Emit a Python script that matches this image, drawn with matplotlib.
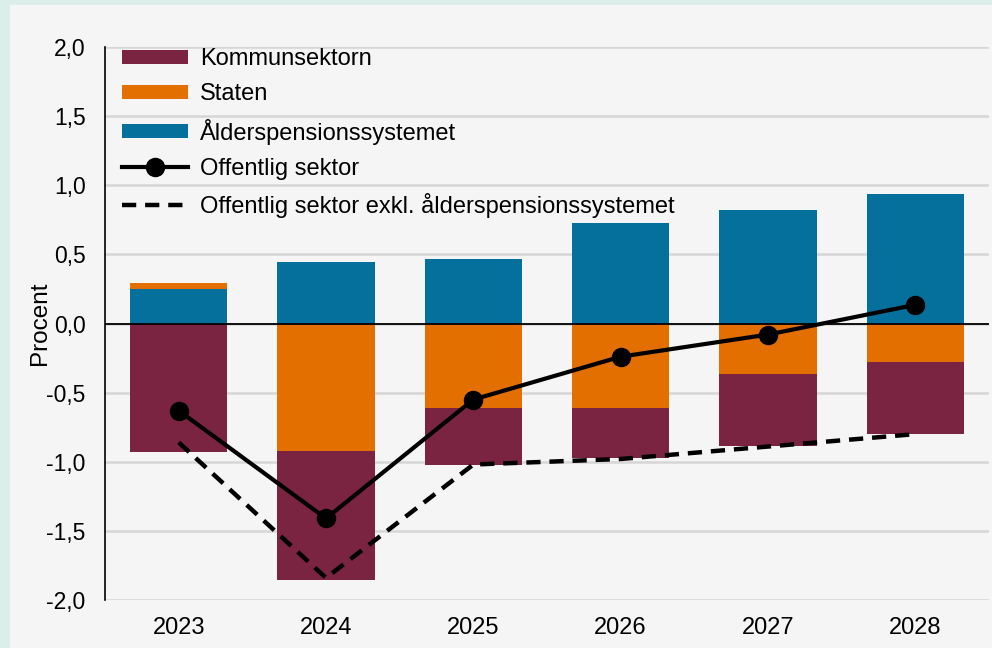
import numpy as np
import matplotlib.pyplot as plt
from matplotlib.patches import Rectangle
from matplotlib.ticker import FuncFormatter

plt.rcParams['font.family'] = ['Liberation Sans', 'DejaVu Sans']

# data (procent)
years = ['2023', '2024', '2025', '2026', '2027', '2028']
kommun = [-0.93, -0.935, -0.41, -0.36, -0.52, -0.52]
staten = [0.04, -0.92, -0.61, -0.61, -0.365, -0.28]
alder = [0.25, 0.445, 0.466, 0.727, 0.82, 0.935]
offentlig = [-0.63, -1.41, -0.55, -0.24, -0.08, 0.135]
exkl_alder = [-0.86, -1.84, -1.02, -0.98, -0.89, -0.80]

c_kommun = '#7a2442'
c_staten = '#e36f00'
c_alder = '#06709c'

fig = plt.figure(figsize=(9.92, 6.48), dpi=100)
fig.patch.set_facecolor('#f5f5f5')
# mint frame on left and top
fig.add_artist(Rectangle((0, 0), 10/992, 1, transform=fig.transFigure,
                         facecolor='#dceeea', edgecolor='none', zorder=-5))
fig.add_artist(Rectangle((0, 1 - 5/648), 1, 5/648, transform=fig.transFigure,
                         facecolor='#dceeea', edgecolor='none', zorder=-5))
ax = fig.add_axes([105/992, 48/648, 884/992, 553/648])
ax.set_facecolor('#f5f5f5')

x = np.arange(len(years))
w = 0.66

# stack positives upward and negatives downward
pos = np.zeros(len(years))
neg = np.zeros(len(years))
bars = {}
for name, vals, col in [('Ålderspensionssystemet', alder, c_alder),
                        ('Staten', staten, c_staten),
                        ('Kommunsektorn', kommun, c_kommun)]:
    v = np.array(vals)
    bottom = np.where(v >= 0, pos, neg)
    bars[name] = ax.bar(x, v, w, bottom=bottom, color=col, label=name, zorder=2)
    pos = pos + np.where(v >= 0, v, 0)
    neg = neg + np.where(v < 0, v, 0)

ln1, = ax.plot(x, offentlig, color='black', lw=3, marker='o', ms=13,
               label='Offentlig sektor', zorder=4)
ln2, = ax.plot(x, exkl_alder, color='black', lw=3.2, ls=(0, (3.2, 2)),
               label='Offentlig sektor exkl. ålderspensionssystemet', zorder=3)

ax.axhline(0, color='black', lw=1.3, zorder=3)
ax.set_xlim(-0.5, 5.5)
ax.set_ylim(-2.0, 2.0)
ax.set_yticks(np.arange(-2.0, 2.01, 0.5))
ax.yaxis.set_major_formatter(FuncFormatter(lambda v, p: f'{v:.1f}'.replace('.', ',')))
ax.set_xticks(x)
ax.set_xticklabels(years)
ax.tick_params(axis='both', length=0)
ax.tick_params(axis='y', pad=14, labelsize=16.5)
ax.tick_params(axis='x', pad=12, labelsize=17)
ax.grid(axis='y', color='#d6d6d6', lw=1.8, zorder=1)
ax.set_axisbelow(True)
for s in ['top', 'right', 'bottom']:
    ax.spines[s].set_visible(False)
ax.spines['left'].set_color('black')
ax.spines['left'].set_linewidth(1.2)
ax.set_ylabel('Procent', fontsize=17.5, labelpad=-3.5)

handles = [bars['Kommunsektorn'], bars['Staten'], bars['Ålderspensionssystemet'], ln1, ln2]
leg = ax.legend(handles=handles, loc='upper left', frameon=False, fontsize=17,
                handlelength=2.8, handleheight=0.55, labelspacing=0.56,
                handletextpad=0.5, borderaxespad=0.0, bbox_to_anchor=(0.0086, 1.015))

fig.savefig('out.png', dpi=100, facecolor=fig.get_facecolor())
